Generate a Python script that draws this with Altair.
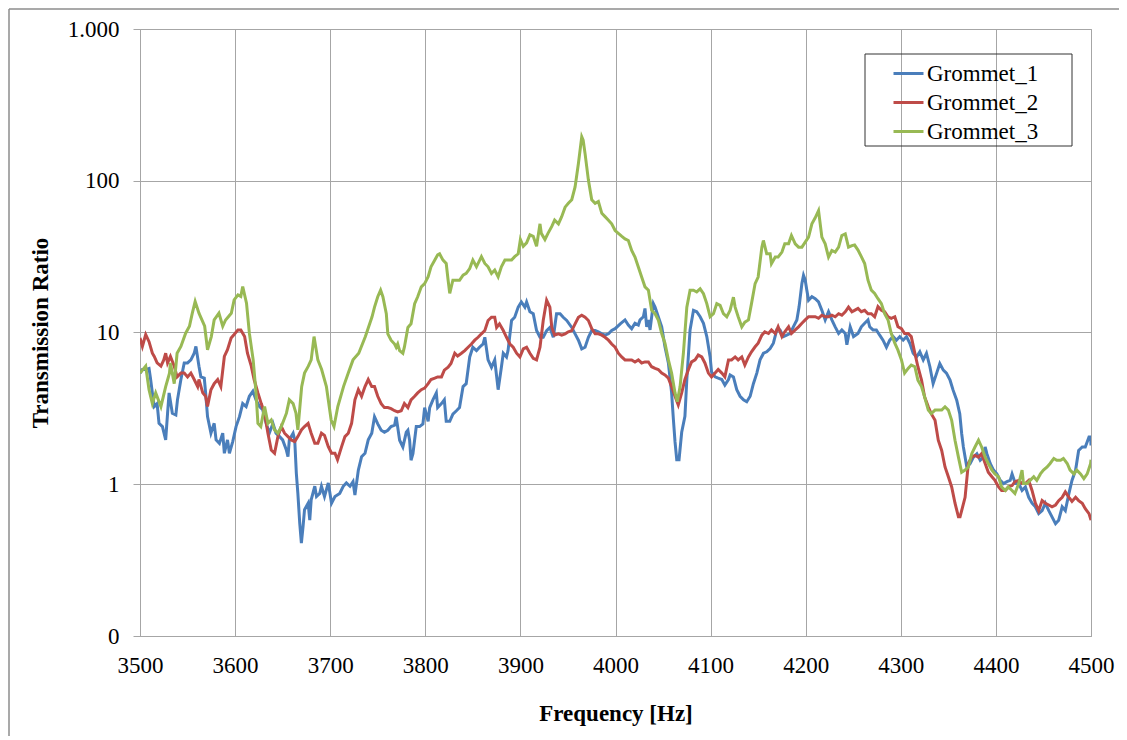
import altair as alt
import pandas as pd

# ---------------- data ----------------
g1_freq = [3500, 3502.5, 3506, 3509.5, 3511, 3513, 3515, 3518, 3520, 3523.6, 3527, 3529, 3530.6, 3534, 3537.7, 3539.4,
           3543, 3546.5, 3550, 3553.5, 3557, 3558.8, 3562, 3564, 3567.6, 3569, 3571, 3574.6, 3578, 3580, 3583.5, 3587,
           3588.7, 3592, 3594, 3597.5, 3601, 3604.6, 3608, 3611.6, 3615, 3618.7, 3622, 3625.7, 3629, 3632.7, 3636,
           3639.8, 3643, 3646.8, 3650, 3653.9, 3655.6, 3657, 3661, 3662.7, 3664.4, 3666, 3668, 3669.7, 3671.5, 3673,
           3676.8, 3678.5, 3680, 3683.8, 3685.6, 3689, 3690.8, 3694, 3698, 3701.4, 3705, 3710, 3713.7, 3717, 3720.8,
           3724, 3726, 3729.6, 3733, 3736.6, 3740, 3743.7,
           3746.6, 3750, 3753.6, 3757, 3760.6, 3764, 3767.7, 3769.4, 3773, 3776.4, 3780, 3781.7, 3783.5, 3785, 3787,
           3790.5, 3794, 3797.5, 3799.3, 3803, 3804.6, 3808, 3811.6, 3813, 3817, 3820, 3822, 3825.7, 3829, 3832.7,
           3836, 3839.7, 3843, 3846.7, 3850, 3853.8, 3857, 3860.8, 3862.6, 3866, 3869.6, 3873, 3876.6, 3880, 3882,
           3885.4, 3887, 3890.7, 3894, 3897.7, 3901, 3904.7, 3906.5, 3910, 3913.5, 3917, 3920.6, 3924, 3927.6, 3931,
           3934.6, 3938, 3941.7, 3945, 3948.7, 3954, 3957.5, 3961, 3964.5, 3968, 3971.5, 3975, 3978.6, 3982, 3985.6,
           3989, 3992.6, 3996, 3999.6, 4005,
           4010, 4013.5, 4017, 4020.5, 4024, 4025.8, 4029.3, 4031, 4032.8, 4034.6, 4036.3, 4039.8, 4041.6, 4045,
           4048.6, 4052, 4055.6, 4059, 4060.9, 4062.6, 4064.4, 4066.8, 4069.6, 4073, 4075, 4078.4, 4082, 4085.4, 4089,
           4092.5, 4096, 4099.5, 4101, 4104.7, 4108, 4111.8, 4115, 4118.8, 4120.5, 4124, 4127.5, 4131, 4134.6, 4138,
           4141.6, 4145, 4148.6, 4152, 4155.6, 4159, 4162.6, 4166, 4169.6, 4173, 4176.7, 4180, 4183.7, 4187, 4190.7,
           4193, 4196, 4197.7, 4199.5, 4201.2, 4203, 4206.5, 4210, 4213.5, 4217, 4220.5, 4224, 4227.5, 4231, 4234.6,
           4238, 4241.6, 4243.3, 4246.8, 4250.3,
           4255, 4258.5, 4262, 4265.5, 4267.3, 4270.8, 4274.3, 4277.8, 4281.3, 4284.9, 4288.4, 4291.9, 4295.4, 4298.9,
           4302.5, 4306, 4309.5, 4313, 4316.5, 4320, 4323.6, 4327, 4330.6, 4334, 4337.7, 4341, 4344.7, 4348, 4351.8,
           4355, 4358.8, 4362, 4364, 4365.8, 4369.4, 4372.9, 4376.4, 4380, 4383.5, 4387, 4388.7, 4390.5, 4394, 4397.5,
           4401, 4404.6, 4408, 4411.6, 4415, 4417, 4420.4, 4424, 4427.5, 4431, 4434.5, 4438, 4441.5, 4445, 4448.6,
           4452, 4455.6, 4459, 4462.7, 4466, 4469.7, 4473, 4476.8, 4480, 4483.8, 4487, 4490.8, 4494, 4497.9, 4499.6,
           4500]
g1_val = [5.4, 5.7, 5.7, 5.8, 5.0, 4.0, 3.25, 3.4, 2.52, 2.40, 1.96, 2.94, 4.0, 2.94, 2.86, 3.6,
          4.9, 6.3, 6.3, 6.6, 7.3, 8.1, 6.0, 5.1, 5.0, 4.0, 2.79, 2.17, 2.52, 1.96, 1.86, 2.17,
          1.60, 1.96, 1.60, 1.91, 2.40, 2.79, 3.4, 3.25, 3.8, 4.1, 3.6, 3.25, 3.1, 2.52, 2.17,
          2.52, 2.17, 2.06, 1.96, 1.68, 1.52, 1.96, 2.17, 1.96, 1.18, 0.87, 0.55, 0.41, 0.53, 0.68,
          0.75, 0.58, 0.79, 0.97, 0.83, 0.87, 0.97, 0.83, 1.02, 0.75, 0.83, 0.87, 0.97, 1.02, 0.97,
          1.04, 0.85, 1.24, 1.52, 1.60, 1.96, 2.17,
          2.78, 2.5, 2.27, 2.2, 2.27, 2.4, 2.45, 2.78, 1.95, 1.76, 2.2, 2.27, 1.95, 1.44, 1.59,
          2.4, 2.4, 2.5, 3.2, 2.6, 3.2, 3.6, 4.0, 3.2, 3.4, 3.6, 2.6, 2.6, 2.9, 3.05,
          3.2, 4.4, 4.6, 6.9, 8.0, 7.6, 8.0, 8.4, 9.3, 6.6, 5.9, 6.6, 4.2, 5.9, 7.3,
          6.9, 7.6, 12.0, 12.6, 14.7, 15.9, 14.7, 15.9, 13.7, 13.3, 10.3, 9.3, 9.3, 10.3, 10.8,
          9.3, 13.3, 13.3, 12.6, 12.0, 10.8, 9.8, 8.9, 7.8, 8.0, 9.3, 10.3, 10.3, 10.1, 9.8,
          9.6, 9.8, 10.3, 10.6, 11.4,
          12.1, 11.2, 10.6, 11.5, 11.2, 12.1, 12.7, 14.4, 10.9, 12.1, 10.4, 15.5, 14.7, 12.7,
          10.9, 8.05, 6.3, 4.0, 2.66, 1.9, 1.45, 1.45, 2.2, 2.8, 4.9, 10.4, 14.0, 13.7, 12.7,
          11.5, 9.4, 6.9, 5.5, 5.1, 5.0, 4.9, 4.5, 4.9, 5.25, 5.1, 4.2, 3.8, 3.6, 3.5,
          3.8, 4.6, 5.4, 6.6, 7.3, 7.46, 7.85, 8.5, 10.4, 10.4, 9.4, 9.6, 9.85, 10.9, 12.1,
          14.7, 21, 23.8, 22.1, 19, 16.3, 17.2, 16.7, 15.9, 14.0, 12.1, 13.7, 12.1, 10.9, 9.85,
          10.4, 9.85, 8.3, 10.9, 9.4,
          9.85, 10.9, 11.5, 12.1, 10.9, 10.4, 10.4, 9.6, 8.9, 8.0, 8.9, 9.4, 8.9, 9.4,
          8.9, 9.4, 8.5, 7.3, 6.9, 7.46, 6.6, 7.3, 5.95, 4.6, 5.4, 6.25, 5.65, 5.4, 4.85,
          4.17, 3.58, 2.92, 2.16, 1.76, 1.30, 1.37, 1.51, 1.59, 1.44, 1.51, 1.76, 1.59, 1.37, 1.24,
          1.17, 1.06, 1.01, 1.04, 1.06, 1.17, 1.01, 1.01, 0.91, 0.96, 0.82, 0.75, 0.71, 0.64, 0.67,
          0.75, 0.67, 0.61, 0.55, 0.58, 0.71, 0.67, 0.87, 1.06, 1.24, 1.67, 1.76, 1.76, 2.05, 2.05,
          1.8]

g2_freq = [3500, 3502.5, 3506, 3509.5, 3513, 3515, 3518, 3522, 3525, 3527, 3529, 3532, 3536, 3539, 3543, 3546.5,
           3550, 3553.5, 3557, 3560.6, 3562, 3566, 3569, 3571, 3574.6, 3578, 3581.7, 3585, 3588.7, 3592, 3595.8,
           3599, 3603, 3606, 3610, 3613, 3617, 3620, 3624, 3627.5, 3631, 3634.5, 3638, 3641.5, 3645, 3648.6, 3652,
           3655.6, 3659, 3662.7, 3666, 3669.7, 3673, 3676.8, 3680, 3683.8, 3687, 3690.8, 3694, 3698, 3701.4, 3705,
           3707.7, 3712, 3715.5, 3719, 3722.5, 3726, 3729.6, 3733, 3736.6, 3740, 3743.7,
           3746.6, 3750, 3753.6, 3757, 3760.6, 3764, 3767.7, 3771, 3774.7, 3778, 3781.7, 3785, 3788.8, 3792, 3795.8,
           3799.3, 3803, 3806, 3810, 3813, 3817, 3820, 3824, 3827, 3831, 3834, 3838, 3841.5, 3845, 3848.5, 3852,
           3855.5, 3859, 3862.6, 3866, 3869.6, 3873, 3875, 3878, 3882, 3885.4, 3889, 3892.4, 3896, 3899.5, 3903,
           3906.5, 3910, 3913.5, 3917, 3920.6, 3924, 3927.6, 3931, 3933, 3936, 3940, 3943.4, 3947, 3950.4, 3954,
           3957.5, 3961, 3964.5, 3968, 3971.5, 3975, 3978.6, 3982, 3985.6, 3989, 3992.6, 3996, 3999.6, 4003, 4006.5,
           4010, 4013.5, 4017, 4020.5, 4024, 4027.5, 4031, 4034.6, 4038, 4041.6, 4045, 4048.6, 4052, 4055.6, 4059,
           4062.6, 4066, 4069.6, 4073, 4076.7, 4080, 4083.7, 4087, 4090.7, 4094, 4097.7, 4101, 4104.7, 4108, 4111.8,
           4115, 4118.8, 4122, 4125.8, 4129, 4132.8, 4136, 4139.8, 4143, 4146.8, 4150, 4153.9, 4157, 4160.9, 4164,
           4168, 4171, 4175, 4178, 4182, 4185, 4189, 4192.5, 4196, 4199.5, 4203, 4206.5, 4210, 4213.5, 4217, 4220.5,
           4224, 4227.5, 4231, 4234.6, 4238, 4241.6, 4245, 4248.6,
           4251.4, 4255, 4258.5, 4262, 4265.5, 4269, 4272.5, 4276, 4279.6, 4283, 4286.6, 4290, 4293.7, 4297, 4300.7,
           4304, 4307.7, 4311, 4314.8, 4318, 4321.8, 4325, 4328.9, 4332, 4336, 4339.4, 4343, 4346.5, 4350, 4353.5,
           4357, 4360.6, 4362.3, 4364, 4367.6, 4371, 4374.6, 4378, 4381.7, 4385, 4388.7, 4392, 4395.8, 4399, 4402.8,
           4406, 4409.9, 4413, 4417, 4420, 4424, 4427.5, 4431, 4434.5, 4438, 4441.5, 4445, 4448.6, 4452, 4455.6,
           4459, 4462.7, 4466, 4469.7, 4473, 4476.8, 4480, 4483.8, 4487, 4490.8, 4494, 4497.9, 4500]
g2_val = [9.2, 8.1, 9.7, 8.7, 7.3, 6.95, 6.3, 6.0, 6.6, 7.3, 6.3, 6.95, 6.0, 5.1, 5.4, 5.4,
          5.1, 5.4, 4.9, 4.4, 4.9, 4.0, 3.8, 3.25, 4.2, 4.6, 4.9, 4.4, 6.95, 7.7, 9.2,
          9.7, 10.4, 10.4, 9.4, 7.3, 6.0, 4.9, 4.0, 3.4, 2.94, 2.17, 1.68, 1.60, 2.06, 2.40, 2.17,
          2.06, 1.96, 1.91, 2.06, 2.28, 2.40, 2.52, 2.17, 1.86, 1.86, 2.17, 2.1, 1.77, 1.60, 1.60,
          1.45, 1.77, 2.06, 2.17, 2.52, 3.6, 4.2, 3.8, 4.4, 4.9, 4.4,
          4.4, 3.8, 3.4, 3.2, 3.2, 3.15, 3.05, 3.0, 3.05, 3.4, 3.2, 3.6, 3.8, 4.0, 4.2,
          4.3, 4.6, 4.9, 5.0, 5.1, 5.1, 5.65, 5.9, 6.25, 7.3, 7.0, 7.3, 7.6, 8.0, 8.4, 8.9,
          9.3, 9.8, 10.3, 12.0, 12.6, 12.6, 10.8, 11.4, 10.3, 9.3, 8.4, 8.0, 7.3, 6.9, 7.8,
          8.0, 7.3, 6.75, 6.6, 8.0, 12.0, 16.3, 14.7, 10.8, 9.6, 9.8, 9.6, 9.8, 10.1, 10.3,
          11.4, 12.6, 13.0, 12.6, 12.0, 10.6, 9.8, 9.8, 9.6, 9.3, 8.9, 8.4, 8.0, 7.3, 6.9,
          6.6, 6.6, 6.6, 6.4, 6.6, 6.3, 6.4, 6.4, 5.95, 5.8, 5.7, 5.4, 5.25, 5.0, 4.4,
          3.8, 3.33, 4.0, 4.9, 5.7, 6.4, 6.6, 7.1, 6.9, 6.3, 5.4, 5.1, 5.4, 5.7, 5.4,
          5.1, 6.6, 6.6, 6.9, 6.6, 6.9, 6.1, 6.9, 7.46, 8.05, 8.5, 9.6, 10.1, 9.85, 10.4,
          9.85, 10.9, 9.4, 10.1, 10.9, 9.85, 10.4, 10.9, 11.5, 12.1, 12.7, 12.7, 12.7, 12.4, 13.0, 12.7,
          12.7, 13.0, 12.7, 13.3, 13.0, 13.7, 14.7, 13.7,
          14.0, 14.4, 13.7, 14.0, 13.3, 13.3, 12.7, 14.8, 14.0, 13.7, 12.7, 12.4, 12.7, 10.9, 10.6,
          9.85, 9.85, 9.4, 7.3, 5.95, 4.85, 3.77, 3.24, 2.92, 2.64, 1.95, 1.67, 1.30, 1.12, 0.96,
          0.75, 0.61, 0.61, 0.67, 0.82, 1.37, 1.51, 1.55, 1.51, 1.59, 1.37, 1.2, 1.12, 1.06, 0.96,
          0.91, 0.91, 0.96, 0.98, 1.04, 1.06, 1.01, 1.01, 1.06, 0.91, 0.75, 0.67, 0.78, 0.75, 0.73,
          0.71, 0.73, 0.78, 0.82, 0.89, 0.82, 0.77, 0.82, 0.78, 0.75, 0.69, 0.64, 0.58]

g3_freq = [3500, 3506, 3509.5, 3513, 3516.5, 3522, 3527, 3531, 3532, 3536, 3539, 3543, 3548, 3552, 3555, 3558,
           3562, 3568, 3571, 3575, 3578, 3583, 3587, 3590, 3596, 3599, 3603, 3606, 3608, 3612, 3615, 3619, 3622,
           3624, 3627, 3631, 3634.5, 3638, 3641.5, 3645, 3648.6, 3654, 3657, 3661, 3664, 3666, 3670, 3673, 3677,
           3680, 3683, 3687, 3691, 3696, 3701, 3704, 3708, 3714, 3719, 3724, 3730, 3737, 3744,
           3746.6, 3750, 3753, 3755.4, 3759, 3760.6, 3764, 3767.7, 3769.4, 3771, 3773, 3776.4, 3778, 3781.7, 3785,
           3788.8, 3792, 3795.8, 3799.3, 3803, 3806, 3810, 3813, 3815, 3818.6, 3822, 3824, 3825.7, 3829, 3832.7,
           3836, 3839.7, 3843, 3846.7, 3850, 3853.8, 3859, 3862.6, 3866, 3869.6, 3873, 3876.6, 3880, 3883.7, 3887,
           3890.7, 3894, 3897.7, 3900, 3903, 3906.5, 3910, 3913.5, 3917, 3920.6, 3922, 3925.8, 3929, 3933, 3936,
           3940, 3943.4, 3947, 3950.4, 3954, 3957.5, 3961, 3964.5, 3966, 3968, 3971.5, 3975, 3978.6, 3982, 3985.6,
           3989, 3992.6, 3996, 3999.6, 4003, 4006.7,
           4010, 4013.5, 4017, 4020.5, 4024, 4027.5, 4031, 4034.6, 4038, 4041.6, 4045, 4048.6, 4052, 4055.6, 4059,
           4062.6, 4065, 4067.9, 4071.4, 4075, 4078.4, 4082, 4085.4, 4089, 4092.5, 4096, 4099.5, 4103, 4106.5, 4110,
           4113.5, 4117, 4120.5, 4124, 4125.8, 4129, 4132.8, 4136, 4139.8, 4143, 4146.8, 4150, 4153.9, 4155.5, 4159,
           4162.6, 4164, 4168, 4171, 4175, 4178, 4182, 4185, 4189, 4192.5, 4196, 4199.5, 4203, 4206.5, 4210, 4213.5,
           4217, 4220.5, 4224, 4227.5, 4231, 4234.6, 4238, 4241.6, 4245, 4248.6,
           4251.4, 4255, 4258.5, 4262, 4265.5, 4269, 4272.5, 4276, 4279.6, 4283, 4286.6, 4290, 4293.7, 4297, 4300.7,
           4304, 4307.7, 4311, 4314.8, 4318, 4321.8, 4325, 4328.9, 4332, 4336, 4339.4, 4343, 4346.5, 4350, 4353.5,
           4357, 4360.6, 4364, 4367.6, 4371, 4374.6, 4378, 4381.7, 4385, 4388.7, 4392, 4395.8, 4399, 4402.8, 4406,
           4409.9, 4413, 4417, 4420, 4424, 4427.5, 4429, 4432.7, 4436, 4439.8, 4443, 4446.8, 4450, 4453.9, 4457,
           4460.9, 4464, 4468, 4471, 4475, 4478, 4482, 4485, 4489, 4492.5, 4496, 4499.6, 4500]
g3_val = [5.4, 6.0, 4.2, 3.4, 4.0, 3.25, 4.4, 5.4, 6.3, 4.6, 7.3, 8.1, 9.9, 11.0, 13.4, 16.0,
          13.4, 11.0, 7.7, 9.4, 12.1, 13.4, 11.0, 12.1, 13.4, 16.4, 17.7, 17.3, 20.1, 15.6, 9.9, 6.6, 4.0,
          2.52, 2.40, 3.25, 2.52, 2.65, 2.28, 2.17, 2.40, 2.94, 3.6, 3.4, 2.94, 2.28, 4.4, 5.4, 6.0,
          6.6, 9.4, 6.6, 5.7, 4.4, 2.65, 2.40, 3.25, 4.4, 5.4, 6.6, 7.3, 9.4, 12.7,
          14.7, 17.2, 19.0, 17.2, 13.3, 9.8, 8.9, 8.4, 8.0, 8.4, 7.6, 7.3, 8.0, 10.8, 11.4,
          15.5, 17.2, 20, 21, 23.3, 27.1, 30, 32.5, 33, 30, 28.5, 22.1, 18.1, 22.1, 22.1,
          22.1, 23.9, 24.5, 26.4, 30, 27.1, 31.6, 28.5, 27.1, 24.5, 25.8, 23.3, 27.1, 30, 30,
          30, 31.6, 33, 41, 37, 39, 44, 43, 37, 52, 45, 41, 45, 50, 55,
          52, 58, 67, 71, 75, 91, 130, 195, 185, 151, 101, 75, 71, 73, 61,
          58, 55, 52, 47, 45, 43,
          41.4, 40.4, 34.7, 31.4, 27, 23.2, 20, 19, 14.0, 13.3, 12.1, 9.85, 8.5, 6.6, 5.4,
          4.0, 3.5, 4.4, 7.3, 14.7, 19, 19, 18.5, 19.4, 18, 15.5, 12.7, 13.3, 15.5, 15.1,
          13.3, 12.7, 14.0, 17.1, 14.7, 12.7, 10.9, 11.7, 12.1, 15.5, 21, 23.2, 36.5, 40.4, 33,
          33, 28.4, 31.4, 31.4, 33.9, 38.4, 38.4, 43.6, 38.4, 36.5, 36.5, 39.4, 42.5, 52, 57, 63.5,
          42.5, 38.4, 31.4, 34.7, 33.9, 36.5, 43.6, 44.7, 36.5, 37.4,
          37.7, 34.9, 31.6, 28.5, 22.1, 19, 18.1, 16.7, 15.5, 13.3, 12.1, 9.85, 8.5, 7.65, 6.6,
          5.4, 5.8, 6.1, 5.95, 4.85, 4.4, 3.77, 3.08, 2.92, 3.08, 3.08, 3.08, 3.24, 3.08, 2.64,
          1.95, 1.51, 1.2, 1.24, 1.30, 1.59, 1.76, 1.95, 1.76, 1.51, 1.37, 1.24, 1.17, 1.12, 0.96,
          0.91, 0.96, 0.91, 0.87, 1.01, 1.24, 1.01, 1.01, 1.06, 1.12, 1.06, 1.17, 1.24, 1.30, 1.37,
          1.48, 1.44, 1.44, 1.48, 1.37, 1.24, 1.17, 1.24, 1.17, 1.09, 1.17, 1.37, 1.45]

series_names = ["Grommet_1", "Grommet_2", "Grommet_3"]
series_colors = ["#4A7EBB", "#BE4B48", "#98B954"]
x_ticks = list(range(3500, 4501, 100))
y_ticks = [0.1, 1, 10, 100, 1000]

frames = []
for name, fr, vals in zip(series_names, [g1_freq, g2_freq, g3_freq], [g1_val, g2_val, g3_val]):
    frames.append(pd.DataFrame({"Frequency": fr, "Ratio": vals, "Series": name}))
df = pd.concat(frames, ignore_index=True)

FONT = "Liberation Serif, Times New Roman, serif"
GRID = "#A6A6A6"

lines = alt.Chart(df).mark_line(strokeWidth=3, clip=True).encode(
    x=alt.X("Frequency:Q",
            scale=alt.Scale(domain=[3500, 4500], nice=False, zero=False),
            axis=alt.Axis(values=x_ticks, format="d", title="Frequency [Hz]",
                          tickSize=0, labelPadding=18, titlePadding=25, labelFlush=False,
                          labelFont=FONT, labelFontSize=23, labelColor="black",
                          titleFont=FONT, titleFontSize=23, titleFontWeight="bold", titleColor="black",
                          grid=True, gridColor=GRID, domainColor=GRID)),
    y=alt.Y("Ratio:Q",
            scale=alt.Scale(type="log", domain=[0.1, 1000], nice=False),
            axis=alt.Axis(values=y_ticks, title="Transmission Ratio",
                          labelExpr="datum.value >= 1000 ? '1.000' : (datum.value < 1 ? '0' : format(datum.value, 'd'))",
                          tickSize=7, tickColor=GRID, labelPadding=14, titlePadding=15, labelFlush=False,
                          labelFont=FONT, labelFontSize=23, labelColor="black",
                          titleFont=FONT, titleFontSize=23, titleFontWeight="bold", titleColor="black",
                          grid=True, gridColor=GRID, domainColor=GRID)),
    color=alt.Color("Series:N",
                    scale=alt.Scale(domain=series_names, range=series_colors),
                    legend=alt.Legend(title=None, orient="none", legendX=752, legendY=28,
                                      symbolType="stroke", symbolSize=900, symbolStrokeWidth=3,
                                      labelFont=FONT, labelFontSize=23, labelColor="black",
                                      labelOffset=2, rowPadding=0, padding=0)),
    order="Frequency:Q",
)

legend_box = alt.Chart().mark_rect(fill=None, stroke="#333333", strokeWidth=1).encode(
    x=alt.value(725), x2=alt.value(932), y=alt.value(25), y2=alt.value(117))

border_left = alt.Chart().mark_rule(color="#8C8C8C", strokeWidth=1.5).encode(
    x=alt.value(-131), y=alt.value(-20), y2=alt.value(720))
border_top = alt.Chart().mark_rule(color="#8C8C8C", strokeWidth=1.5).encode(
    x=alt.value(-131), x2=alt.value(1000), y=alt.value(-20))

chart = alt.layer(lines, legend_box, border_left, border_top).properties(
    width=951, height=607,
    autosize=alt.AutoSizeParams(type="none"),
    padding={"left": 132, "top": 21, "right": 28, "bottom": 100},
    background="white",
).configure_view(stroke=GRID)

chart.save("out.html", embed_options={"renderer": "svg", "actions": False})
